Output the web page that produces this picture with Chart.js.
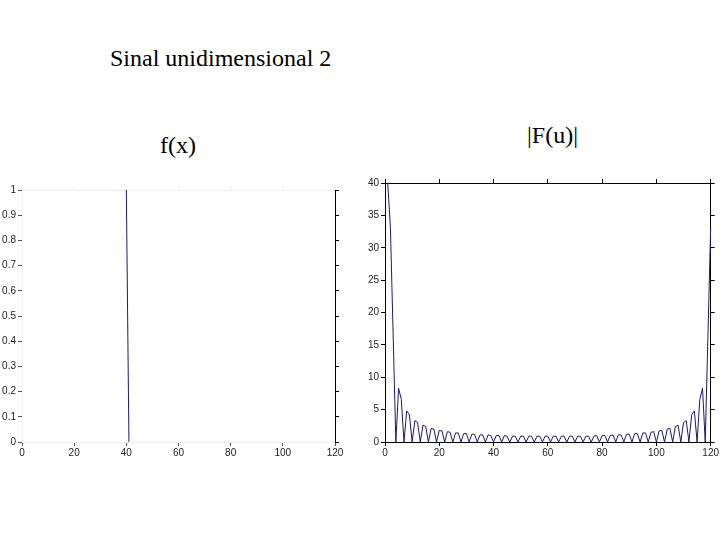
<html>
<head>
<title>Sinal unidimensional 2</title>
<script src="https://cdn.jsdelivr.net/npm/chart.js"></script>
<style>
  body { margin: 0; background: #fff; width: 720px; height: 540px; overflow: hidden; position: relative; }
  .txt { position: absolute; font-family: "Liberation Serif", "Times New Roman", serif; font-size: 24px; color: #000; white-space: nowrap; }
  canvas { position: absolute; }
</style>
</head>
<body>
<div class="txt" style="left:110px; top:45px;">Sinal unidimensional 2</div>
<div class="txt" style="left:160px; top:132px;">f(x)</div>
<div class="txt" style="left:527px; top:122px;">|F(u)|</div>

<canvas id="left" width="370" height="285" style="left:-20px; top:180px;"></canvas>
<canvas id="right" width="375" height="292" style="left:345px; top:173px;"></canvas>

<script>
// sample index (1..120), same for both plots
const xs = Array.from({ length: 120 }, (_, i) => i + 1);

// f(x): rectangle, 1 for the first 40 samples
const fx = [
  1,1,1,1,1,1,1,1,1,1, 1,1,1,1,1,1,1,1,1,1,
  1,1,1,1,1,1,1,1,1,1, 1,1,1,1,1,1,1,1,1,1,
  0,0,0,0,0,0,0,0,0,0, 0,0,0,0,0,0,0,0,0,0,
  0,0,0,0,0,0,0,0,0,0, 0,0,0,0,0,0,0,0,0,0,
  0,0,0,0,0,0,0,0,0,0, 0,0,0,0,0,0,0,0,0,0,
  0,0,0,0,0,0,0,0,0,0, 0,0,0,0,0,0,0,0,0,0
];

// |F(u)|
const Fu = [
  40, 33.1, 16.5, 0, 8.3, 6.6, 0, 4.8, 4.2, 0,
  3.3, 3.0, 0, 2.6, 2.4, 0, 2.1, 2.0, 0, 1.8,
  1.7, 0, 1.6, 1.5, 0, 1.4, 1.4, 0, 1.3, 1.3,
  0, 1.2, 1.2, 0, 1.1, 1.1, 0, 1.1, 1.0, 0,
  1.0, 1.0, 0, 1.0, 0.9, 0, 0.9, 0.9, 0, 0.9,
  0.9, 0, 0.9, 0.9, 0, 0.9, 0.9, 0, 0.9, 0.9,
  0, 0.9, 0.9, 0, 0.9, 0.9, 0, 0.9, 0.9, 0,
  0.9, 0.9, 0, 0.9, 0.9, 0, 0.9, 1.0, 0, 1.0,
  1.0, 0, 1.0, 1.1, 0, 1.1, 1.1, 0, 1.2, 1.2,
  0, 1.3, 1.3, 0, 1.4, 1.4, 0, 1.5, 1.6, 0,
  1.7, 1.8, 0, 2.0, 2.1, 0, 2.4, 2.6, 0, 3.0,
  3.3, 0, 4.2, 4.8, 0, 6.6, 8.3, 0, 16.5, 33.1
];

const leftYTicks = [0, 0.1, 0.2, 0.3, 0.4, 0.5, 0.6, 0.7, 0.8, 0.9, 1];
const rightYTicks = [0, 5, 10, 15, 20, 25, 30, 35, 40];
const xTicks = [0, 20, 40, 60, 80, 100, 120];

const lineColor = '#1b1b6b';
const tickFont = { family: 'Liberation Sans', size: 10 };

function makeChart(id, values, yMax, yTicks, yWidth, pad, frame, flatColor) {
  const pts = xs.map((x, i) => ({ x: x, y: values[i] }));
  const fixW = w => s => { s.width = w; };
  const fixH = h => s => { s.height = h; };
  return new Chart(document.getElementById(id), {
    type: 'line',
    data: {
      datasets: [{
        data: pts,
        borderColor: lineColor,
        borderWidth: 1,
        pointRadius: 0,
        tension: 0,
        clip: false,
        // parts lying on the frame are washed out in the original
        segment: {
          borderColor: ctx => (flatColor && ctx.p0.parsed.y === ctx.p1.parsed.y) ? flatColor : undefined
        }
      }]
    },
    options: {
      responsive: false,
      animation: false,
      events: [],
      layout: { padding: pad },
      plugins: { legend: { display: false }, tooltip: { enabled: false } },
      scales: {
        x: {
          type: 'linear', min: 0, max: 120,
          afterFit: fixH(23),
          afterBuildTicks: s => { s.ticks = xTicks.map(v => ({ value: v })); },
          ticks: { color: '#222', font: tickFont, padding: 1, maxRotation: 0 },
          grid: { drawOnChartArea: false, tickLength: 4, color: frame.bottomTick },
          border: { color: frame.bottom }
        },
        x2: {
          type: 'linear', position: 'top', min: 0, max: 120,
          afterFit: fixH(4),
          afterBuildTicks: s => { s.ticks = xTicks.map(v => ({ value: v })); },
          ticks: { display: false },
          grid: { drawOnChartArea: false, tickLength: 4, color: frame.top },
          border: { color: frame.top }
        },
        y: {
          min: 0, max: yMax,
          afterFit: fixW(yWidth),
          afterBuildTicks: s => { s.ticks = yTicks.map(v => ({ value: v })); },
          ticks: { color: '#222', font: tickFont, padding: 2, callback: v => String(v) },
          grid: { drawOnChartArea: false, tickLength: 4, color: frame.leftTick },
          border: { color: frame.left }
        },
        y2: {
          position: 'right', min: 0, max: yMax,
          afterFit: fixW(4),
          afterBuildTicks: s => { s.ticks = yTicks.map(v => ({ value: v })); },
          ticks: { display: false },
          grid: { drawOnChartArea: false, tickLength: 4, color: frame.right },
          border: { color: frame.right }
        }
      }
    }
  });
}

makeChart('left', fx, 1, leftYTicks, 42,
  { top: 6, right: 11, left: 0, bottom: 0 },
  { top: '#f0f0f0', bottom: '#f0f0f0', bottomTick: '#555', left: '#f0f0f0', leftTick: '#555', right: '#000' },
  '#f0f0f0');

makeChart('right', Fu, 40, rightYTicks, 40,
  { top: 6, right: 4, left: 0, bottom: 0 },
  { top: '#000', bottom: '#000', bottomTick: '#000', left: '#000', leftTick: '#000', right: '#000' },
  null);
</script>
</body>
</html>
